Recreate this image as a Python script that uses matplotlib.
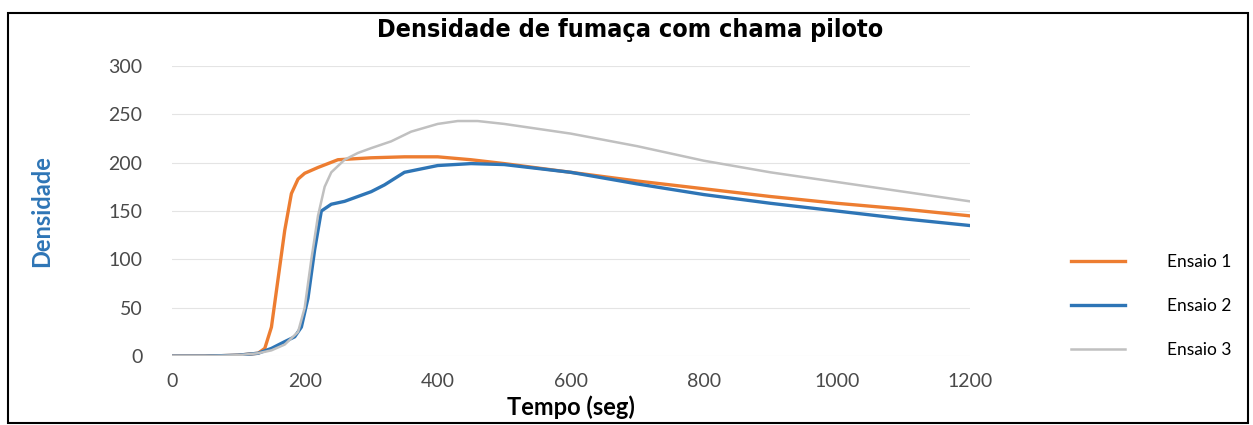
import matplotlib.pyplot as plt
from matplotlib.patches import Rectangle

plt.rcParams['font.family'] = ['Lato', 'DejaVu Sans']

# leitura aproximada das curvas
tempo1 = [0, 50, 100, 130, 140, 150, 160, 170, 180, 190, 200, 220, 250, 300, 350, 400,
          450, 500, 600, 700, 800, 900, 1000, 1100, 1200]
ensaio1 = [0, 0, 1, 3, 8, 30, 80, 130, 168, 183, 189, 195, 203, 205, 206, 206,
           203, 199, 190, 181, 173, 165, 158, 152, 145]

tempo2 = [0, 50, 100, 130, 150, 170, 185, 195, 205, 215, 225, 240, 260, 280, 300, 320,
          350, 400, 450, 500, 600, 700, 800, 900, 1000, 1100, 1200]
ensaio2 = [0, 0, 1, 3, 8, 15, 20, 30, 60, 110, 150, 157, 160, 165, 170, 177,
           190, 197, 199, 198, 190, 178, 167, 158, 150, 142, 135]

tempo3 = [0, 50, 100, 130, 150, 170, 190, 200, 210, 220, 230, 240, 260, 280, 300, 330,
          360, 400, 430, 460, 500, 600, 700, 800, 900, 1000, 1100, 1200]
ensaio3 = [0, 0, 1, 3, 6, 12, 25, 50, 100, 145, 175, 190, 203, 210, 215, 222,
           232, 240, 243, 243, 240, 230, 217, 202, 190, 180, 170, 160]

xticks = [0, 200, 400, 600, 800, 1000, 1200]
yticks = [0, 50, 100, 150, 200, 250, 300]

fig = plt.figure(figsize=(12.53, 4.25), dpi=100)
ax = fig.add_axes([0.137, 0.162, 0.637, 0.683])

ax.plot(tempo1, ensaio1, color='#ED7D31', lw=2.4, label='Ensaio 1')
ax.plot(tempo2, ensaio2, color='#2E75B6', lw=2.4, label='Ensaio 2')
ax.plot(tempo3, ensaio3, color='#C0C0C0', lw=1.8, label='Ensaio 3')

ax.set_xlim(0, 1200)
ax.set_ylim(0, 300)
ax.set_xticks(xticks)
ax.set_yticks(yticks)
ax.grid(axis='y', color='#E4E4E4', lw=0.8)
ax.set_axisbelow(True)
for s in ax.spines.values():
    s.set_visible(False)
ax.tick_params(length=0, labelsize=14, labelcolor='#4a4a4a', pad=12)
ax.tick_params(axis='y', pad=21)

ax.set_xlabel('Tempo (seg)', fontsize=17, fontweight='bold', labelpad=4)
ax.set_ylabel('Densidade', fontsize=17, color='#2E75B6', fontweight='bold', labelpad=40)
fig.text(0.503, 0.93, 'Densidade de fumaça com chama piloto', ha='center', va='center',
         fontsize=18, fontweight='bold', fontstretch='condensed', family=['DejaVu Sans'])

fig.legend(loc='center left', bbox_to_anchor=(0.842, 0.28), frameon=False,
           fontsize=12.5, handlelength=3.15, handletextpad=2.4, labelspacing=1.6)

fig.patches.append(Rectangle((0.006, 0.005), 0.99, 0.965, transform=fig.transFigure,
                             fill=False, ec='black', lw=1.5))

fig.savefig('out.png', dpi=100)
